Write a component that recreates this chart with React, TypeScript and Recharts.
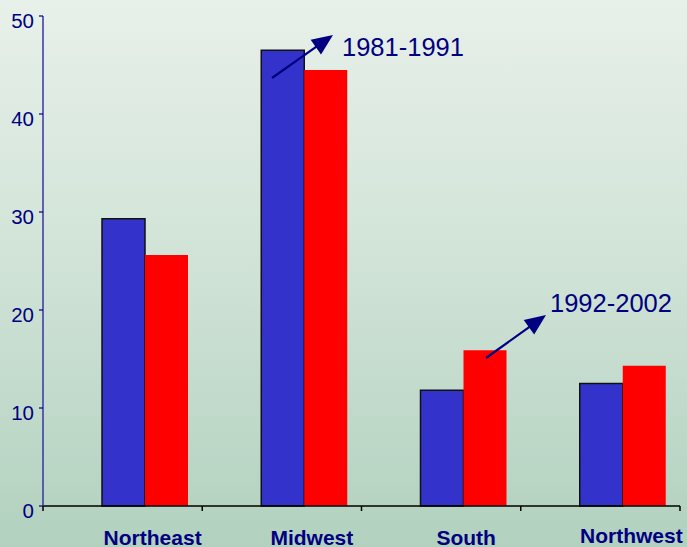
import React from 'react';
import { BarChart, Bar, XAxis, YAxis, Rectangle } from 'recharts';

const regions = ['Northeast', 'Midwest', 'South', 'Northwest'];
const period1981 = [29.3, 46.5, 11.8, 12.5];
const period1992 = [25.6, 44.5, 15.9, 14.3];
const yTicks = [0, 10, 20, 30, 40, 50];
// label offsets from the band centre
const labelShift = [30, 30, 25, 31];

const data = regions.map((name, i) => ({ name, p1: period1981[i], p2: period1992[i] }));

const W = 687;
const H = 547;
const margin = { top: 16, right: 7, left: 0, bottom: 0 };
const yAxisWidth = 43;
const bandWidth = (W - margin.right - yAxisWidth) / regions.length;
const navy = '#000080';
const font = 'Arial, "Liberation Sans", sans-serif';

// bars sit a little right of the band centre in the original
const shift = 22;
const ShiftedBar = (props: any) => <Rectangle {...props} x={props.x + shift} />;

const YTick = (props: any) => {
  const { x, y, payload } = props;
  return (
    <text x={x} y={y + 4.5} dy="0.355em" textAnchor="end" fill={navy} fontSize={20.5} fontFamily={font}>
      {payload.value}
    </text>
  );
};

const XTick = (props: any) => {
  const { x, y, payload, index } = props;
  const left = x - bandWidth / 2;
  const right = x + bandWidth / 2;
  const last = index === regions.length - 1;
  return (
    <g>
      <line x1={left} y1={y} x2={left} y2={y + 5} stroke="#000" strokeWidth={1.5} />
      {last && <line x1={right} y1={y} x2={right} y2={y + 5} stroke="#000" strokeWidth={1.5} />}
      <text
        x={x + labelShift[index]}
        y={last ? y + 36.5 : y + 38.5}
        textAnchor="middle"
        fill={navy}
        fontSize={21}
        fontWeight="bold"
        fontFamily={font}
      >
        {payload.value}
      </text>
    </g>
  );
};

const Arrow = ({ x1, y1, x2, y2 }: { x1: number; y1: number; x2: number; y2: number }) => {
  const dx = x2 - x1;
  const dy = y2 - y1;
  const len = Math.sqrt(dx * dx + dy * dy);
  const ux = dx / len;
  const uy = dy / len;
  const headLen = 21;
  const headHalf = 9;
  const bx = x2 - ux * headLen;
  const by = y2 - uy * headLen;
  const pts = `${x2},${y2} ${bx - uy * headHalf},${by + ux * headHalf} ${bx + uy * headHalf},${by - ux * headHalf}`;
  return (
    <g>
      <line x1={x1} y1={y1} x2={bx + ux * 2} y2={by + uy * 2} stroke={navy} strokeWidth={2.2} />
      <polygon points={pts} fill={navy} />
    </g>
  );
};

export default function App() {
  return (
    <div
      style={{
        position: 'absolute',
        left: 0,
        top: 0,
        width: W,
        height: H,
        background: 'linear-gradient(to bottom, #E8F0EA 0%, #D2E4D8 45%, #B2D1BF 100%)',
        overflow: 'hidden',
      }}
    >
      <BarChart width={W} height={H} data={data} margin={margin} barSize={43} barGap={0}>
        <XAxis
          dataKey="name"
          height={41}
          tickLine={false}
          tickSize={0}
          tickMargin={0}
          axisLine={{ stroke: '#000', strokeWidth: 1.5 }}
          tick={<XTick />}
          interval={0}
        />
        <YAxis
          width={yAxisWidth}
          domain={[0, 50]}
          ticks={yTicks}
          tickSize={4}
          tickMargin={5}
          axisLine={{ stroke: '#3535A8', strokeWidth: 1.5 }}
          tickLine={{ stroke: navy, strokeWidth: 1.2 }}
          tick={<YTick />}
        />
        <Bar dataKey="p1" fill="#3333CC" stroke="#111" strokeWidth={1.5} shape={ShiftedBar} isAnimationActive={false} />
        <Bar dataKey="p2" fill="#FF0000" shape={ShiftedBar} isAnimationActive={false} />
      </BarChart>
      <svg width={W} height={H} style={{ position: 'absolute', left: 0, top: 0, pointerEvents: 'none' }}>
        <Arrow x1={272} y1={78} x2={333} y2={35} />
        <text x={342} y={56} fill={navy} fontSize={25.5} fontFamily={font}>1981-1991</text>
        <Arrow x1={486} y1={358} x2={546} y2={315} />
        <text x={550} y={312} fill={navy} fontSize={25.5} fontFamily={font}>1992-2002</text>
      </svg>
    </div>
  );
}
